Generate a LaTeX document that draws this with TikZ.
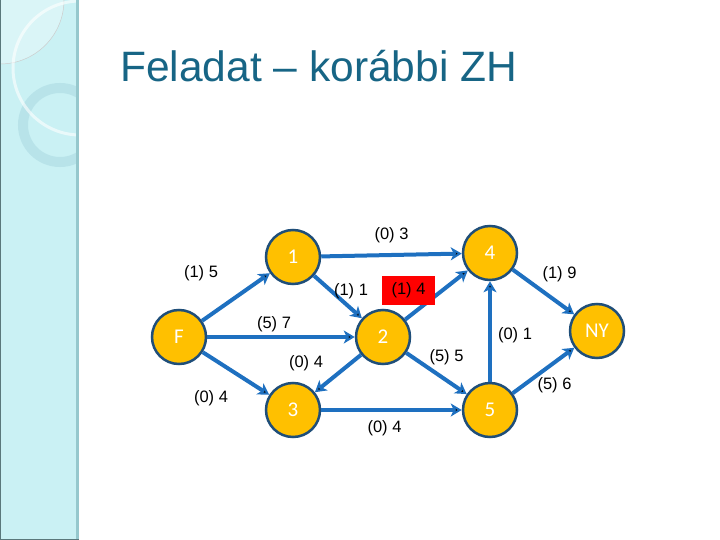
\documentclass[tikz,border=0pt]{standalone}
\usepackage{fontspec}
\setmainfont{Liberation Sans}
\newfontfamily\nodefont{Carlito}
\usetikzlibrary{arrows.meta,positioning}
\definecolor{titleblue}{RGB}{23,101,133}
\definecolor{edgeblue}{RGB}{30,112,192}
\definecolor{rimblue}{RGB}{31,78,121}
\definecolor{nodegold}{RGB}{255,192,0}
\definecolor{sidecyan}{RGB}{202,241,244}
\definecolor{sideedge}{RGB}{150,200,205}
\definecolor{sidering}{RGB}{172,218,226}
\tikzset{
  vertex/.style={circle, draw=rimblue, line width=2.5pt, fill=nodegold, minimum size=54pt,
    inner sep=0pt, text=white, font=\nodefont\fontsize{21}{24}\selectfont},
  flow/.style={draw=edgeblue, line width=4pt, -{Stealth[length=11pt,width=13pt,inset=3pt]}},
  lbl/.style={inner sep=0pt, text=black, font=\fontsize{16.5}{19}\selectfont},
  hot/.style={lbl, fill=red, minimum width=53pt, minimum height=29pt}
}
\begin{document}
\begin{tikzpicture}[x=1pt,y=-1pt,on grid]
			\useasboundingbox (0,0) rectangle (720,540);
			% side strip
			\fill[sidecyan] (0,0) rectangle (79,540);
			\begin{scope}
				\clip (0,0) rectangle (76,540);
				\fill[white, opacity=0.3] (0,0) circle[radius=64];
				\draw[gray!40, line width=0.5pt] (0,0) circle[radius=64];
				\draw[sidering, opacity=0.6, line width=10pt] (60,125) circle[radius=37];
				\draw[white, opacity=0.6, line width=3pt] (80,68) circle[radius=67];
			\end{scope}
			\fill[sideedge] (76,0) rectangle (79,540);
			\draw[sideedge!60!black, line width=1pt] (0.5,0) -- (0.5,539.5) -- (79,539.5);
			% title
			\node[anchor=base west, inner sep=0pt, text=titleblue, font=\fontsize{42.5}{50}\selectfont]
				(title) at (120,82) {Feladat – korábbi ZH};
			% network
			\node[vertex] (v_F) at (179,337) {F};
			\node[vertex] (v_1) [above right=80pt and 114pt of v_F] {1};
			\node[vertex] (v_2) [right=204pt of v_F] {2};
			\node[vertex] (v_3) [below right=73pt and 114pt of v_F] {3};
			\node[vertex] (v_4) [above right=84pt and 107pt of v_2] {4};
			\node[vertex] (v_5) [below right=73pt and 107pt of v_2] {5};
			\node[vertex] (v_NY) [above right=6pt and 214pt of v_2] {NY};
			\path[flow]
			(v_F) edge node[lbl, shift={(-35,-24)}] {(1) 5} (v_1)
			edge node[lbl, shift={(-7,-13)}] {(5) 7} (v_2)
			edge node[lbl, shift={(-25,25)}] {(0) 4} (v_3)
			(v_1) edge node[lbl, shift={(0,-20)}] {(0) 3} (v_4)
			edge node[lbl, shift={(13,-6)}] {(1) 1} (v_2)
			(v_2) edge node[hot, shift={(-28,-5)}] {(1) 4} (v_4)
			edge node[lbl, shift={(-32,-10)}] {(0) 4} (v_3)
			edge node[lbl, shift={(10,-16)}] {(5) 5} (v_5)
			(v_3) edge node[lbl, shift={(-7,18)}] {(0) 4} (v_5)
			(v_5) edge node[lbl, shift={(25,4)}] {(0) 1} (v_4)
			edge node[lbl, shift={(11,15)}] {(5) 6} (v_NY)
			(v_4) edge node[lbl, shift={(16,-18)}] {(1) 9} (v_NY);
		\end{tikzpicture}
\end{document}
